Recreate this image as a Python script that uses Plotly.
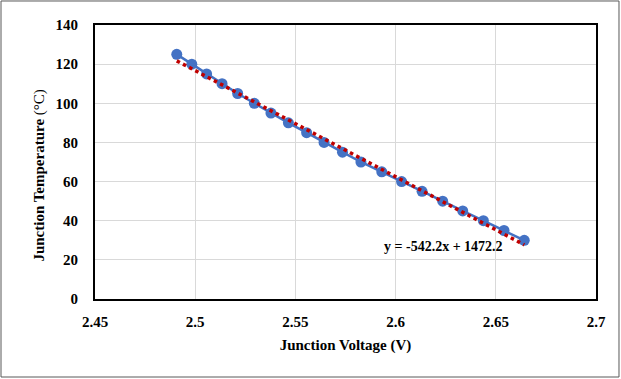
import plotly.graph_objects as go

# Data
voltage = [2.4908, 2.4983, 2.5057, 2.5134, 2.5212, 2.5295, 2.5378, 2.5465,
           2.5556, 2.5643, 2.5735, 2.5827, 2.5931, 2.6030, 2.6132, 2.6235,
           2.6335, 2.6438, 2.6541, 2.6642]
temperature = [125, 120, 115, 110, 105, 100, 95, 90, 85, 80, 75, 70, 65, 60,
               55, 50, 45, 40, 35, 30]

# Linear trendline coefficients (from the chart's equation)
trend_slope = -542.2
trend_intercept = 1472.2
trend_label = "y = -542.2x + 1472.2"

x_ticks = [2.45, 2.5, 2.55, 2.6, 2.65, 2.7]
x_tick_labels = ["2.45", "2.5", "2.55", "2.6", "2.65", "2.7"]
y_ticks = [0, 20, 40, 60, 80, 100, 120, 140]

trend_x = [min(voltage), max(voltage)]
trend_y = [trend_slope * v + trend_intercept for v in trend_x]

FONT = "Liberation Serif, Times New Roman, serif"

fig = go.Figure()
fig.add_trace(go.Scatter(
    x=voltage, y=temperature, mode="lines+markers",
    line=dict(color="#4472C4", width=2.5),
    marker=dict(color="#4472C4", size=11),
    showlegend=False, hoverinfo="x+y"))
fig.add_trace(go.Scatter(
    x=trend_x, y=trend_y, mode="lines",
    line=dict(color="#C00000", width=3.5, dash="dot"),
    showlegend=False, hoverinfo="skip"))

fig.add_annotation(x=2.6237, y=26.6, xref="x", yref="y", text=f"<b>{trend_label}</b>",
                   showarrow=False, font=dict(family=FONT, size=14, color="black"))

# Y-axis title (placed as rotated text, slightly below the plot-area centre as in the reference)
fig.add_annotation(x=-0.11, y=0.45, xref="paper", yref="paper",
                   text="<b>Junction Temperature</b> (°C)", textangle=-90,
                   showarrow=False, xanchor="center", yanchor="middle",
                   font=dict(family=FONT, size=15, color="black"))

# Outer chart border
fig.add_shape(type="rect", xref="paper", yref="paper",
              x0=-0.1876, x1=1.0459, y0=-0.2847, y1=1.0876,
              line=dict(color="#595959", width=1), layer="below")

fig.update_layout(
    width=621, height=379,
    margin=dict(l=95, r=25, t=25, b=80),
    paper_bgcolor="white", plot_bgcolor="white",
    font=dict(family=FONT, size=14, color="black"),
    xaxis=dict(
        range=[2.45, 2.7], tickvals=x_ticks, ticktext=x_tick_labels,
        showgrid=True, gridcolor="#D9D9D9", gridwidth=1,
        showline=True, linecolor="black", linewidth=2, mirror=True,
        zeroline=False, ticks="", ticklabelstandoff=8,
        tickfont=dict(family=FONT, size=15, color="black", weight="bold"),
        title=dict(text="<b>Junction Voltage (V)</b>", standoff=10,
                   font=dict(family=FONT, size=15, color="black")),
    ),
    yaxis=dict(
        range=[0, 140], tickvals=y_ticks,
        showgrid=True, gridcolor="#D9D9D9", gridwidth=1,
        showline=True, linecolor="black", linewidth=2, mirror=True,
        zeroline=False, ticks="", ticklabelstandoff=12,
        tickfont=dict(family=FONT, size=15, color="black", weight="bold"),
    ),
)

fig.write_html("out.html")
